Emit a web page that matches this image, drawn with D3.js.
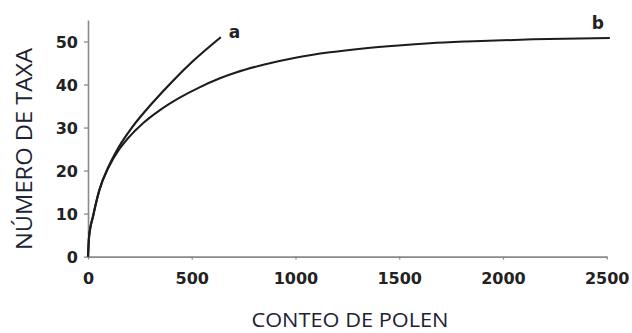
<!DOCTYPE html>
<html>
<head>
<meta charset="utf-8">
<script src="https://cdn.jsdelivr.net/npm/d3@7/dist/d3.min.js"></script>
<style>
  html, body { margin: 0; padding: 0; background: #fff; }
  svg { display: block; }
</style>
</head>
<body>
<svg id="chart" width="632" height="333"></svg>
<script>
// Rarefaction curves: number of taxa against pollen count
const countA = [0, 5, 25, 55, 100, 150, 215, 310, 410, 505, 640];
const taxaA  = [0, 4.5, 9.5, 15.5, 21, 25.6, 30.2, 35.7, 40.9, 45.4, 51];

const countB = [0, 5, 25, 55, 100, 150, 200, 265, 345, 440, 535, 633, 713, 845, 1006, 1166, 1327, 1496, 1648, 1825, 2145, 2515];
const taxaB  = [0, 4.5, 9.5, 15.5, 20.8, 24.9, 27.9, 31.0, 34.0, 36.9, 39.3, 41.4, 42.8, 44.6, 46.3, 47.5, 48.4, 49.1, 49.6, 50.0, 50.5, 50.8];

const xTicks = [0, 500, 1000, 1500, 2000, 2500];
const yTicks = [0, 10, 20, 30, 40, 50];

const seriesNames = ["a", "b"];
const xTitle = "CONTEO DE POLEN";
const yTitle = "NÚMERO DE TAXA";

const svg = d3.select("#chart");

const x = d3.scaleLinear().domain([0, 2500]).range([88, 606.7]);
const y = d3.scaleLinear().domain([0, 55]).range([256.6, 20]);

const axisColor = "#8a8a8a";
const tickFont = "'DejaVu Sans', sans-serif";

// X axis
const gx = svg.append("g")
  .attr("transform", `translate(0,${y(0)})`)
  .call(d3.axisBottom(x).tickValues(xTicks).tickFormat(d3.format("d"))
    .tickSize(3).tickPadding(13).tickSizeOuter(0));
// Y axis
const gy = svg.append("g")
  .attr("transform", `translate(${x(0)},0)`)
  .call(d3.axisLeft(y).tickValues(yTicks).tickFormat(d3.format("d"))
    .tickSize(4).tickPadding(6).tickSizeOuter(0));

[gx, gy].forEach(g => {
  g.select(".domain").attr("stroke", axisColor).attr("stroke-width", 1.6);
  g.selectAll(".tick line").attr("stroke", axisColor).attr("stroke-width", 1.3);
  g.selectAll(".tick text")
    .attr("fill", "#222")
    .attr("font-family", tickFont)
    .attr("font-weight", "bold")
    .attr("font-size", 16);
});
gy.selectAll(".tick text").attr("dy", "0.36em");

// Curves
const line = d3.line()
  .x(d => x(d[0]))
  .y(d => y(d[1]))
  .curve(d3.curveMonotoneX);

const dataA = countA.map((c, i) => [c, taxaA[i]]);
const dataB = countB.map((c, i) => [c, taxaB[i]]);

svg.append("path")
  .datum(dataB)
  .attr("d", line)
  .attr("fill", "none")
  .attr("stroke", "#1c1c1c")
  .attr("stroke-width", 2);

svg.append("path")
  .datum(dataA)
  .attr("d", line)
  .attr("fill", "none")
  .attr("stroke", "#1c1c1c")
  .attr("stroke-width", 2.2);

// Curve labels
const endA = dataA[dataA.length - 1];
const endB = dataB[dataB.length - 1];
svg.append("text")
  .attr("x", x(endA[0]) + 8)
  .attr("y", y(endA[1]) + 0.5)
  .attr("font-family", tickFont)
  .attr("font-weight", "bold")
  .attr("font-size", 17)
  .attr("fill", "#222")
  .text(seriesNames[0]);
svg.append("text")
  .attr("x", x(endB[0]) - 18)
  .attr("y", y(endB[1]) - 9)
  .attr("font-family", tickFont)
  .attr("font-weight", "bold")
  .attr("font-size", 17)
  .attr("fill", "#222")
  .text(seriesNames[1]);

// Axis titles
svg.append("text")
  .attr("x", 350)
  .attr("y", 327)
  .attr("text-anchor", "middle")
  .attr("font-family", "'Open Sans', sans-serif")
  .attr("font-size", 20.5)
  .attr("fill", "#1c2333")
  .attr("textLength", 197)
  .attr("lengthAdjust", "spacingAndGlyphs")
  .text(xTitle);

svg.append("text")
  .attr("transform", "translate(31.5,149) rotate(-90)")
  .attr("text-anchor", "middle")
  .attr("font-family", "'Open Sans', sans-serif")
  .attr("font-size", 21.5)
  .attr("fill", "#1c2333")
  .attr("textLength", 202)
  .attr("lengthAdjust", "spacingAndGlyphs")
  .text(yTitle);
</script>
</body>
</html>
